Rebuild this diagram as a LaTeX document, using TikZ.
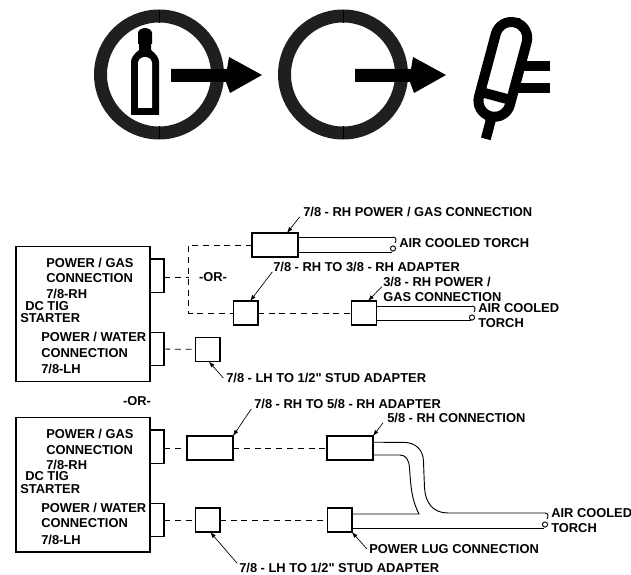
\documentclass[tikz,border=0pt]{standalone}
\usepackage{fontspec}
\setmainfont{Liberation Sans}[Ligatures=TeXOff]
\usetikzlibrary{arrows.meta}

\tikzset{
	lbl/.style={anchor=west, inner sep=0pt, text height=6.9pt, text depth=0pt, font=\fontsize{9.66}{11}\bfseries},
	startbox/.style={draw, line width=1pt, inner sep=0pt, outer sep=0pt, minimum width=100.5pt, minimum height=101pt},
	tabbox/.style={draw, line width=1pt, inner sep=0pt, outer sep=0pt, minimum width=10.5pt, minimum height=25pt},
	widebox/.style={draw, line width=1pt, inner sep=0pt, outer sep=0pt, minimum width=34.5pt, minimum height=18pt},
	squarebox/.style={draw, line width=1pt, inner sep=0pt, outer sep=0pt, minimum width=18.5pt, minimum height=18pt},
	dashline/.style={line width=0.6pt, dash pattern=on 4.5pt off 3.6pt},
	cable/.style={line width=0.7pt},
	ptr/.style={line width=0.5pt, -{Latex[length=4.5pt,width=3.2pt]}},
	torchend/.pic={
		\draw[cable] (0,0) .. controls (3,0) and (4,3) .. (2,6);
		\draw[cable] (0,11.5) circle (2.6);
	}
}

\begin{document}
\begin{tikzpicture}[x=0.75pt, y=-0.75pt, line join=miter]
	\useasboundingbox (0,0) rectangle (631,574);

	% Rings at the top
	\foreach \rx in {159,343}{
		\draw[line width=9.75pt, black!88] (\rx,74.5) circle (58.5);
		\draw[line width=0.4pt] (\rx,10) -- (\rx,23);
		\draw[line width=0.4pt] (\rx,126) -- (\rx,139);
	}

	% Gas bottle
	\fill (131,115) -- (131,62) .. controls (131,58) and (134,54) .. (139,50) -- (139,44)
	-- (138,44) -- (138,33) .. controls (138,30) and (142,28) .. (145,28)
	.. controls (148,28) and (152,30) .. (152,33) -- (152,44) -- (151,44) -- (151,50)
	.. controls (156,54) and (159,58) .. (159,62) -- (159,115) -- cycle;
	\fill[white] (138,108) -- (138,63) .. controls (138,59) and (142,57) .. (145,57)
	.. controls (148,57) and (152,59) .. (152,63) -- (152,108) -- cycle;

	% Flow arrows
	\foreach \ax in {171,355}{
		\fill (\ax,69) -- ({\ax+56},69) -- ({\ax+58},57) -- ({\ax+91},75) -- ({\ax+59},93)
		-- ({\ax+55},82) -- (\ax,82) -- cycle;
	}

	% Torch head
	\draw[line width=7.5pt, rounded corners=12pt, rotate around={-15:(503.5,67)}]
	(487.5,21) rectangle (519.5,118);
	\draw[line width=7.5pt, rotate around={-15:(503.5,67)}] (487.5,97) -- (519.5,97);
	\draw[line width=7.5pt, rotate around={-15:(503.5,67)}] (505,118) -- (505,141);
	\fill (518,61) rectangle (550,71);
	\fill (515,83) rectangle (550,93);

	% Upper starter
	\node[startbox] (starta) at (83,314) {};
	\node[tabbox] (tabgasa) at (157,275.5) {};
	\node[tabbox] (tabwatera) at (157,349) {};
	\draw[line width=1.5pt] (tabgasa.north west) -- (tabgasa.south west);
	\draw[line width=1.5pt] (tabwatera.north west) -- (tabwatera.south west);
	\node[lbl] (gasa) at (46,263) {POWER / GAS};
	\node[lbl] (gascona) at (46,278) {CONNECTION};
	\node[lbl] (rha) at (46,294) {7/8-RH};
	\node[lbl] (tiga) at (25,306) {DC TIG};
	\node[lbl] (stra) at (20,318) {STARTER};
	\node[lbl] (watera) at (41,337) {POWER / WATER};
	\node[lbl] (watercona) at (41,353) {CONNECTION};
	\node[lbl] (lha) at (41,369) {7/8-LH};

	% Upper fittings
	\node[widebox] (boxrh) at (275,245) {};
	\node[squarebox] (boxadapt) at (245.5,313) {};
	\node[squarebox] (boxsmall) at (364,313) {};
	\node[squarebox] (boxstuda) at (207.5,349.5) {};
	\coordinate (splittop) at (188.5,245);
	\coordinate (splitbot) at (188.5,313);
	\coordinate (splitmid) at (188.5,277);
	\draw[dashline] (tabgasa.east |- splitmid) -- (splitmid);
	\draw[dashline] (boxrh) -- (splittop) -- (splitbot) -- (boxadapt);
	\draw[dashline] (boxadapt) -- (boxsmall);
	\draw[dashline] (tabwatera) -- (boxstuda);
	\node[lbl, anchor=center] (ora) at (213,277) {-OR-};

	% Upper torch cables
	\coordinate (endrh) at (393,237);
	\coordinate (endsmall) at (472,306);
	\draw[cable] ([yshift=6pt]boxrh.east) -- (endrh);
	\draw[cable] ([yshift=-5.25pt]boxrh.east) -- (392,252);
	\pic at (endrh) {torchend};
	\draw[cable] ([yshift=5.25pt]boxsmall.east) -- (endsmall);
	\draw[cable] ([yshift=-5.25pt]boxsmall.east) -- (471,320);
	\pic at (endsmall) {torchend};

	% Upper labels
	\node[lbl] (lblrh) at (303,212) {7/8 - RH POWER / GAS CONNECTION};
	\node[lbl] (lbltorcha) at (399,243) {AIR COOLED TORCH};
	\node[lbl] (lbladapt) at (273,267) {7/8 - RH TO 3/8 - RH ADAPTER};
	\node[lbl] (lblsmall) at (383,282) {3/8 - RH POWER /};
	\node[lbl] (lblsmallb) at (383,297) {GAS CONNECTION};
	\node[lbl] (lbltorchb) at (478,308) {AIR COOLED};
	\node[lbl] (lbltorchc) at (478,323) {TORCH};
	\node[lbl] (lblstuda) at (226,378) {7/8 - LH TO 1/2" STUD ADAPTER};
	\draw[ptr] ([xshift=-2.5pt]lblrh.south west) -- ([xshift=9pt]boxrh.north);
	\draw[ptr] ([xshift=-0.5pt]lbladapt.south west) -- ([xshift=3.5pt]boxadapt.north);
	\draw[ptr] ([xshift=-1pt]lblsmall.south west) -- ([xshift=3pt]boxsmall.north);
	\draw[ptr] ([xshift=-2pt]lblstuda.west) -- ([xshift=1pt]boxstuda.south);

	\node[lbl, anchor=center] (orb) at (137,401) {-OR-};

	% Lower starter
	\node[startbox] (startb) at (83,484.5) {};
	\node[tabbox] (tabgasb) at (157,446.5) {};
	\node[tabbox] (tabwaterb) at (157,520) {};
	\draw[line width=1.5pt] (tabgasb.north west) -- (tabgasb.south west);
	\draw[line width=1.5pt] (tabwaterb.north west) -- (tabwaterb.south west);
	\node[lbl] (gasb) at (46,434) {POWER / GAS};
	\node[lbl] (gasconb) at (46,450) {CONNECTION};
	\node[lbl] (rhb) at (46,465) {7/8-RH};
	\node[lbl] (tigb) at (25,476) {DC TIG};
	\node[lbl] (strb) at (20,489) {STARTER};
	\node[lbl] (waterb) at (41,508) {POWER / WATER};
	\node[lbl] (waterconb) at (41,523) {CONNECTION};
	\node[lbl] (lhb) at (41,540) {7/8-LH};

	% Lower fittings
	\node[widebox] (boxfive) at (210,448) {};
	\node[widebox] (boxfiveb) at (350,448) {};
	\node[squarebox] (boxstudb) at (207.5,520) {};
	\node[squarebox] (boxlug) at (339.5,520) {};
	\draw[dashline] (tabgasb.east |- boxfive) -- (boxfive);
	\draw[dashline] (boxfive) -- (boxfiveb);
	\draw[dashline] (tabwaterb) -- (boxstudb);
	\draw[dashline] (boxstudb) -- (boxlug);

	% Cables joining into one torch lead
	\coordinate (endlead) at (545,513);
	\coordinate (joinlead) at (419,514);
	\draw[cable] ([yshift=4.3pt]boxfiveb.east) -- (403,442.3)
	.. controls (416,442.3) and (423.5,450) .. (423.5,462) -- (424.5,488)
	.. controls (425.5,503) and (433,513) .. (448,513) -- (endlead);
	\draw[cable] ([yshift=-5.25pt]boxfiveb.east) -- (400,455)
	.. controls (406,455) and (409,460) .. (409.5,468)
	.. controls (411,490) and (412,500) .. (joinlead)
	-- ([yshift=4.5pt]boxlug.east);
	\draw[cable] ([yshift=-6pt]boxlug.east) -- (544,528);
	\pic at (endlead) {torchend};

	% Lower labels
	\node[lbl] (lblfive) at (254,404) {7/8 - RH TO 5/8 - RH ADAPTER};
	\node[lbl] (lblfiveb) at (387,418) {5/8 - RH CONNECTION};
	\node[lbl] (lbltorchd) at (551,513) {AIR COOLED};
	\node[lbl] (lbltorche) at (551,528) {TORCH};
	\node[lbl] (lbllug) at (369,549) {POWER LUG CONNECTION};
	\node[lbl] (lblstudb) at (239,568) {7/8 - LH TO 1/2" STUD ADAPTER};
	\draw[ptr] ([xshift=-2pt]lblfive.south west) -- (boxfive.north east);
	\draw[ptr] ([xshift=-3pt]lblfiveb.south west) -- (boxfiveb.north east);
	\draw[ptr] ([xshift=-1.5pt]lbllug.west) -- (boxlug.south east);
	\draw[ptr] ([xshift=-1.5pt]lblstudb.north west) -- ([xshift=2pt]boxstudb.south);

\end{tikzpicture}
\end{document}
